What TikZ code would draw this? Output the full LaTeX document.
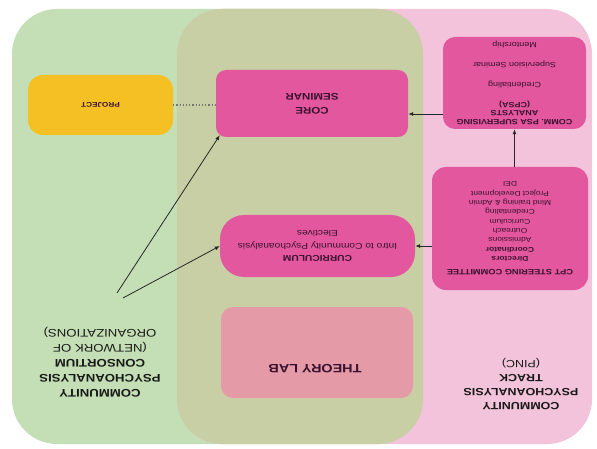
\documentclass[tikz,border=0pt]{standalone}
\usepackage{fontspec}
\setmainfont{Liberation Sans}[FakeStretch=1.2]
\usepackage{xcolor}
\usepackage{tikz}
\usetikzlibrary{arrows.meta,positioning,calc}
\definecolor{pincGreen}{HTML}{C4DFB5}
\definecolor{pincPink}{HTML}{F2C3DA}
\definecolor{pincOlive}{HTML}{C9CFA4}
\definecolor{pincMagenta}{HTML}{E2579E}
\definecolor{pincRose}{HTML}{E59AA7}
\definecolor{pincAmber}{HTML}{F5C024}
\definecolor{pincInk}{HTML}{3A1230}
\tikzset{
  unitBox/.style={
    rectangle,
    rounded corners=12pt,
    fill=pincMagenta,
    rotate=180,
    inner sep=0pt,
    align=center,
    text=pincInk
  },
  areaLabel/.style={
    rotate=180,
    align=center,
    text=black!90,
    inner sep=0pt
  },
  arrow/.style={
    -{Latex[length=5pt,width=4pt]},
    line width=0.8pt,
    draw=black!85
  },
  linkDots/.style={
    dotted,
    line width=1.2pt,
    draw=black!55
  }
}

\begin{document}
\begin{tikzpicture}[x=1pt,y=-1pt]
  \useasboundingbox (0,0) rectangle (597,449);
  \fill[white] (0,0) rectangle (597,449);
  \fill[pincGreen,rounded corners=45pt] (12,9) rectangle (423,444);
  \fill[pincPink,rounded corners=45pt] (177,9) rectangle (592,444);
  \fill[pincOlive,rounded corners=45pt] (177,9) rectangle (423,444);

  \node[unitBox,minimum width=143pt,minimum height=92pt,font=\fontsize{7.5}{8.7}\selectfont] (cpsa) at (514.5,83)
    {\textbf{COMM. PSA SUPERVISING}\\\textbf{ANALYSTS}\\\textbf{(CPSA)}\\[11pt]Credentialing\\[11pt]Supervision Seminar\\[11pt]Mentorship};
  \node[unitBox,rounded corners=14pt,minimum width=156pt,minimum height=123pt,font=\fontsize{7}{9.3}\selectfont] (steer) at (510,228.5)
    {\textbf{\fontsize{7.7}{9.3}\selectfont CPT STEERING COMMITTEE}\\[4pt]\textbf{Directors}\\\textbf{Coordinator}\\Admissions\\Outreach\\Curriculum\\Credentialing\\Mind training \& Admin\\Project Development\\DEI};
  \node[unitBox,rounded corners=10pt,minimum width=192pt,minimum height=67pt,font=\bfseries\fontsize{9.6}{14}\selectfont] (core) at (312,103.5)
    {CORE\\SEMINAR};
  \node[unitBox,rounded corners=24pt,minimum width=195pt,minimum height=62pt,font=\fontsize{8.5}{12.5}\selectfont] (curr) at (317.5,246)
    {\textbf{CURRICULUM}\\Intro to Community Psychoanalysis\\Electives};
  \node[unitBox,fill=pincRose,minimum width=192pt,minimum height=91pt] (lab) at (317,352.5) {};
  \node[areaLabel,text=pincInk,font=\bfseries\fontsize{12}{14}\selectfont] (labText) at (315,369) {THEORY LAB};
  \node[unitBox,fill=pincAmber,rounded corners=15pt,minimum width=145pt,minimum height=60pt,font=\bfseries\fontsize{6.8}{8}\selectfont] (proj) at (100.5,105)
    {PROJECT};

  \node[areaLabel,font=\fontsize{11}{15}\selectfont] (consortium) at (100,362)
    {\textbf{COMMUNITY}\\\textbf{PSYCHOANALYSIS}\\\textbf{CONSORTIUM}\\(NETWORK OF\\ORGANIZATIONS)};
  \node[areaLabel,font=\fontsize{10.4}{14}\selectfont] (track) at (521,384)
    {\textbf{COMMUNITY}\\\textbf{PSYCHOANALYSIS}\\\textbf{TRACK}\\(PINC)};

  \coordinate (consHub) at (117,293);
  \coordinate (consHubB) at (123,298);

  \draw[arrow] (steer.south -| cpsa.north) -- (cpsa.north);
  \draw[arrow] ([yshift=-10.5pt]core.west -| cpsa.east) -- ([yshift=-10.5pt]core.west);
  \draw[arrow] (curr.west -| steer.east) -- (curr.west);
  \draw[linkDots] (proj.west) -- (proj.west -| core.east);
  \draw[arrow] (consHub) -- ([xshift=4pt,yshift=2pt]core.north east);
  \draw[arrow] (consHubB) -- (curr.east);
\end{tikzpicture}
\end{document}
